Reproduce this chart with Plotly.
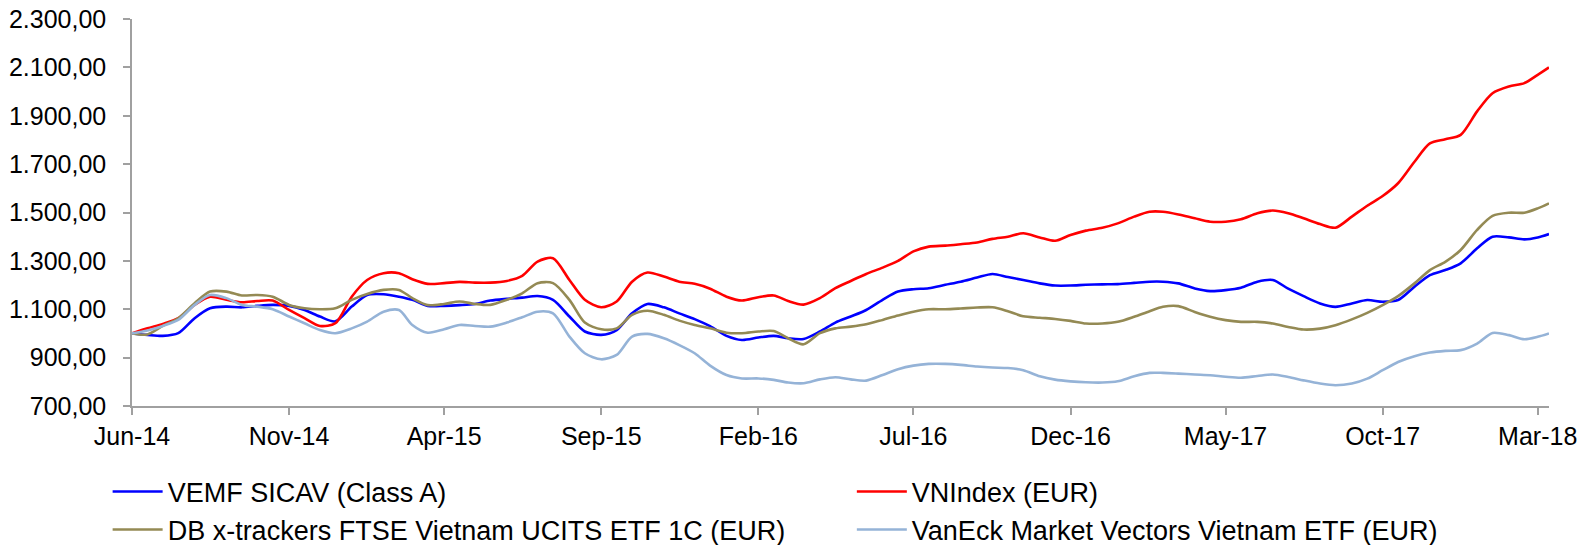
import plotly.graph_objects as go

# Half-monthly sample dates (1st and 16th of each month), Jun-14 .. Mar-18, plus final observation
months = []
y, m = 2014, 6
while (y, m) <= (2018, 3):
    months.append((y, m))
    m += 1
    if m > 12:
        m = 1
        y += 1
dates = []
for (yy, mm) in months:
    dates.append(f"{yy}-{mm:02d}-01")
    if (yy, mm) != (2018, 3):
        dates.append(f"{yy}-{mm:02d}-16")
dates.append("2018-03-12")

vemf = [1000, 994, 990, 1001, 1063, 1104, 1111, 1108, 1114, 1118, 1114, 1097, 1070, 1050, 1111, 1159,
        1162, 1152, 1139, 1114, 1114, 1117, 1122, 1136, 1143, 1148, 1155, 1139, 1070, 1008, 994, 1014,
        1083, 1122, 1108, 1083, 1059, 1030, 990, 973, 983, 990, 980, 977, 1008, 1045, 1070, 1097,
        1139, 1173, 1183, 1187, 1201, 1214, 1231, 1246, 1233, 1221, 1207, 1198, 1198, 1201, 1203, 1204,
        1209, 1214, 1214, 1207, 1186, 1175, 1179, 1189, 1214, 1221, 1185, 1154, 1124, 1110, 1124, 1138,
        1131, 1138, 1193, 1241, 1262, 1290, 1352, 1400, 1397, 1389, 1397, 1411]

vnindex = [1000, 1021, 1039, 1063, 1118, 1152, 1139, 1129, 1134, 1136, 1097, 1063, 1031, 1042, 1152, 1221,
           1249, 1249, 1224, 1205, 1208, 1213, 1210, 1210, 1217, 1238, 1297, 1311, 1221, 1139, 1108, 1132,
           1214, 1252, 1235, 1214, 1205, 1185, 1152, 1136, 1150, 1157, 1134, 1119, 1146, 1187, 1217, 1246,
           1272, 1300, 1339, 1359, 1363, 1369, 1376, 1391, 1400, 1414, 1397, 1383, 1407, 1425, 1437, 1455,
           1483, 1503, 1503, 1492, 1476, 1462, 1462, 1472, 1497, 1508, 1497, 1476, 1452, 1437, 1483, 1528,
           1568, 1621, 1710, 1786, 1803, 1821, 1918, 1993, 2021, 2035, 2069, 2100]

dbx = [1000, 996, 1031, 1063, 1125, 1173, 1173, 1157, 1159, 1152, 1118, 1104, 1100, 1104, 1139, 1163,
       1180, 1180, 1146, 1117, 1122, 1132, 1122, 1118, 1139, 1166, 1208, 1208, 1139, 1045, 1017, 1021,
       1077, 1094, 1077, 1053, 1035, 1021, 1003, 1001, 1008, 1010, 980, 955, 1001, 1021, 1028, 1038,
       1056, 1074, 1090, 1100, 1100, 1103, 1107, 1108, 1092, 1071, 1065, 1060, 1052, 1041, 1041, 1048,
       1069, 1092, 1110, 1113, 1089, 1069, 1055, 1048, 1048, 1041, 1027, 1016, 1020, 1034, 1058, 1085,
       1117, 1154, 1207, 1262, 1296, 1345, 1428, 1486, 1499, 1499, 1517, 1538]

vaneck = [1000, 1012, 1031, 1056, 1118, 1159, 1146, 1118, 1111, 1100, 1070, 1042, 1014, 1001, 1021, 1049,
          1090, 1097, 1035, 1003, 1017, 1035, 1031, 1028, 1045, 1067, 1090, 1083, 987, 918, 893, 911,
          987, 998, 980, 952, 918, 867, 828, 814, 814, 808, 797, 794, 810, 819, 810, 805,
          828, 852, 867, 874, 874, 870, 863, 859, 857, 848, 823, 809, 802, 798, 797, 802,
          823, 837, 837, 834, 830, 827, 821, 817, 824, 830, 820, 806, 793, 786, 793, 813,
          848, 882, 906, 921, 928, 931, 958, 1002, 993, 976, 986, 1000]

series_names = ["VEMF SICAV (Class A)", "VNIndex (EUR)",
                "DB x-trackers FTSE Vietnam UCITS ETF 1C (EUR)",
                "VanEck Market Vectors Vietnam ETF (EUR)"]
series_values = [vemf, vnindex, dbx, vaneck]
series_colors = ["#0000FF", "#FF0000", "#948A54", "#95B3D7"]
series_legend = ["legend", "legend2", "legend", "legend2"]

tick_dates = ["2014-06-01", "2014-11-01", "2015-04-01", "2015-09-01", "2016-02-01",
              "2016-07-01", "2016-12-01", "2017-05-01", "2017-10-01", "2018-03-01"]
tick_labels = ["Jun-14", "Nov-14", "Apr-15", "Sep-15", "Feb-16",
               "Jul-16", "Dec-16", "May-17", "Oct-17", "Mar-18"]
y_ticks = [700, 900, 1100, 1300, 1500, 1700, 1900, 2100, 2300]

FONT = "Liberation Sans, Arial, sans-serif"

fig = go.Figure()
for name, vals, col, lg in zip(series_names, series_values, series_colors, series_legend):
    fig.add_trace(go.Scatter(
        x=dates, y=vals, name=name, mode="lines", legend=lg,
        line=dict(color=col, width=2.6, shape="spline", smoothing=0.8),
    ))

legend_common = dict(
    orientation="v", xanchor="left", yanchor="top", itemwidth=50,
    font=dict(family=FONT, size=27, color="#000000"),
    bgcolor="rgba(0,0,0,0)", borderwidth=0,
)

fig.update_layout(
    width=1591, height=545,
    margin=dict(l=132, r=42, t=19, b=139, autoexpand=False),
    paper_bgcolor="white", plot_bgcolor="white",
    separators=",.",
    font=dict(family=FONT, color="#000000", size=25),
    showlegend=True,
    legend=dict(x=-0.0172, y=-0.1587, **legend_common),
    legend2=dict(x=0.508, y=-0.1587, **legend_common),
)

fig.update_xaxes(
    type="date", range=["2014-06-01", "2018-03-12"],
    tickvals=tick_dates, ticktext=tick_labels,
    showgrid=False, zeroline=False,
    showline=True, linecolor="#A0A0A0", linewidth=1.5,
    ticks="outside", ticklen=7, tickcolor="#A0A0A0", tickwidth=1.5,
    ticklabeloverflow="allow",
    tickfont=dict(family=FONT, size=25, color="#000000"),
)
fig.update_yaxes(
    range=[700, 2300], tickvals=y_ticks, tickformat=",.2f",
    showgrid=False, zeroline=False,
    showline=True, linecolor="#A0A0A0", linewidth=1.5,
    ticks="outside", ticklen=7, tickcolor="#A0A0A0", tickwidth=1.5,
    ticklabelstandoff=12, ticklabeloverflow="allow",
    tickfont=dict(family=FONT, size=25, color="#000000"),
)

# remove the default 8px page margin so the figure fills the window exactly
fig.write_html("out.html", config={"displayModeBar": False},
               post_script="document.body.style.margin='0';")
